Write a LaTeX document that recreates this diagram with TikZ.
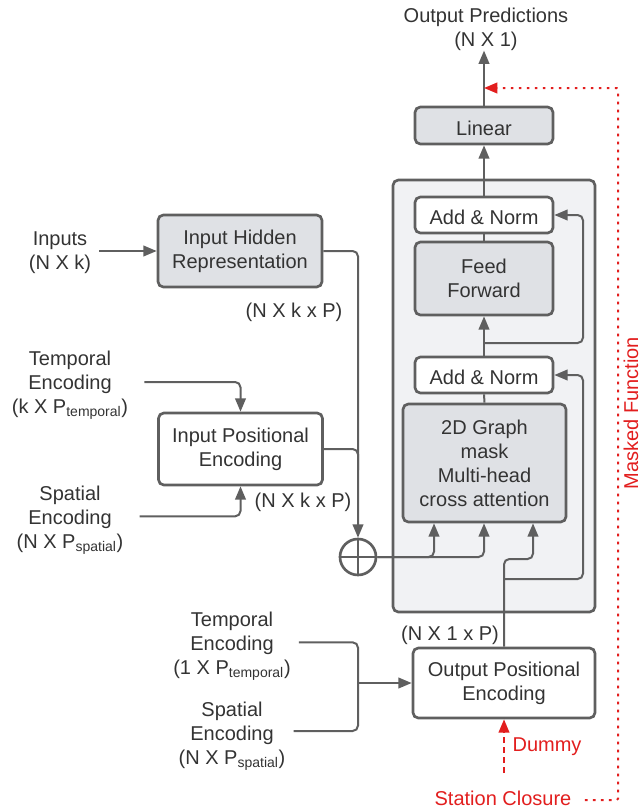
\documentclass[tikz,border=0pt]{standalone}
\usepackage{fontspec}
\setmainfont{Liberation Sans}
\usetikzlibrary{arrows.meta}
\definecolor{linegray}{RGB}{95,95,95}
\definecolor{boxgray}{RGB}{223,225,229}
\definecolor{encgray}{RGB}{241,242,244}
\definecolor{txtgray}{RGB}{51,51,51}
\definecolor{maskred}{RGB}{226,30,30}
\begin{document}
\begin{tikzpicture}[x=.75pt, y=-.75pt, font=\fontsize{15}{18}\selectfont, text=txtgray,
  box/.style={draw=linegray, line width=2pt, rounded corners=4pt, align=center, inner sep=0pt,
    execute at begin node={\rule{0pt}{15pt}}},
  lbl/.style={align=center, inner sep=1pt, execute at begin node={\rule{0pt}{15pt}}},
  conn/.style={draw=linegray, line width=1.5pt},
  arr/.style={-{Triangle[length=10pt,width=8pt]}},
  reddot/.style={draw=maskred, line width=1.5pt, dash pattern=on 2pt off 4pt},
  reddash/.style={draw=maskred, line width=1.5pt, dash pattern=on 4.5pt off 3pt}]
\useasboundingbox (0,0) rectangle (640,810);

\node[lbl] (outp) at (486,29) {Output Predictions\\(N X 1)};
\node[box, fill=boxgray, minimum width=103.5pt, minimum height=27.75pt] (lin) at (484,125.5) {Linear};
\node[box, fill=encgray, minimum width=151.5pt, minimum height=324pt] (enc) at (494,396) {};
\node[box, fill=white, minimum width=103.5pt, minimum height=27pt] (an1) at (484,215) {Add \& Norm};
\node[box, fill=boxgray, minimum width=103.5pt, minimum height=54.75pt] (ff) at (484,278.5) {Feed\\Forward};
\node[box, fill=white, minimum width=103.5pt, minimum height=27pt] (an2) at (484,375) {Add \& Norm};
\node[box, fill=boxgray, minimum width=122.25pt, minimum height=88.5pt] (graph) at (484.5,463) {2D Graph\\mask\\Multi-head\\cross attention};

\node[lbl] (inp) at (60,253) {Inputs\\(N X k)};
\node[box, fill=boxgray, minimum width=123pt, minimum height=54pt] (ihr) at (240,251) {Input Hidden\\Representation};
\node[lbl] at (294,310) {(N X k x P)};
\node[lbl] (tenc) at (70,385) {Temporal\\Encoding\\(k X P\textsubscript{temporal})};
\node[box, fill=white, minimum width=123pt, minimum height=54pt] (ipe) at (240.5,449) {Input Positional\\Encoding};
\node[lbl] (senc) at (70,520) {Spatial\\Encoding\\(N X P\textsubscript{spatial})};
\node[lbl] at (303,500) {(N X k x P)};
\node[draw=linegray, line width=2pt, circle, minimum size=27pt, inner sep=0pt] (plus) at (358,557) {};
\draw[conn, line width=2pt] (plus.north) -- (plus.south) (plus.west) -- (plus.east);

\node[lbl] (tenc2) at (232,646) {Temporal\\Encoding\\(1 X P\textsubscript{temporal})};
\node[lbl] (senc2) at (232,736) {Spatial\\Encoding\\(N X P\textsubscript{spatial})};
\node[lbl] at (450,633) {(N X 1 x P)};
\node[box, fill=white, minimum width=136.5pt, minimum height=52.5pt] (ope) at (504,683) {Output Positional\\Encoding};

\node[lbl, text=maskred] (dummy) at (547,744) {Dummy};
\node[lbl, text=maskred, inner sep=0pt] (station) at (503,796) {Station Closure};
\node[text=maskred, rotate=90, inner sep=0pt] (masked) at (631,413) {Masked Function};

\coordinate (rr) at (583,0);
\coordinate (ffsplit) at (484,343);
\coordinate (join) at (358,683);
\coordinate (q) at (533,559);
\coordinate (g1) at (434,0);
\coordinate (g2) at (484,0);
\coordinate (mcorner) at (618,88);
\coordinate (mf) at (484,88);
\coordinate (dstart) at (504,773);

\draw[conn, arr] (lin.north) -- ([yshift=1pt]lin.north |- outp.south);
\draw[conn, arr] (an1.north) -- (lin.south);
\draw[conn] (ff.north) -- (an1.south);
\draw[conn, arr] (an2.north) -- (ff.south);
\draw[conn, arr, rounded corners=4pt] (ffsplit) -| (rr |- an1.east) -- (an1.east);
\draw[conn] (graph.north) -- (an2.south);
\draw[conn, arr, rounded corners=4pt] (ope.north) |- (q) -- (q |- graph.south);
\draw[conn, arr, rounded corners=4pt] (ope.north |- 0,579) -| (rr |- an2.east) -- (an2.east);
\draw[conn, arr, rounded corners=4pt] (plus.east) -| (g1 |- graph.south);
\draw[conn, arr, rounded corners=4pt] (plus.east) -| (g2 |- graph.south);

\draw[conn, arr] ([xshift=5pt]inp.east |- ihr.west) -- (ihr.west);
\draw[conn, arr, rounded corners=4pt] (ihr.east) -| (plus.north);
\draw[conn, rounded corners=4pt] (ipe.east) -| (plus.north |- 0,470);
\draw[conn, arr, rounded corners=4pt] ([xshift=11pt,yshift=2.25pt]tenc.east) -| (ipe.north);
\draw[conn, arr, rounded corners=4pt] ([xshift=11pt,yshift=2.75pt]senc.east) -| (ipe.south);

\draw[conn, rounded corners=4pt] ([xshift=5pt,yshift=2.75pt]tenc2.east) -| (join);
\draw[conn, rounded corners=4pt] ([xshift=5pt,yshift=3.75pt]senc2.east) -| (join);
\draw[conn, arr] (join) -- (ope.west);

\draw[reddash, arr] (dstart) -- (ope.south);
\draw[reddot, arr, rounded corners=1pt] ([xshift=10pt,yshift=-3pt]station.east) -| (mcorner) -- (mf);
\end{tikzpicture}
\end{document}
